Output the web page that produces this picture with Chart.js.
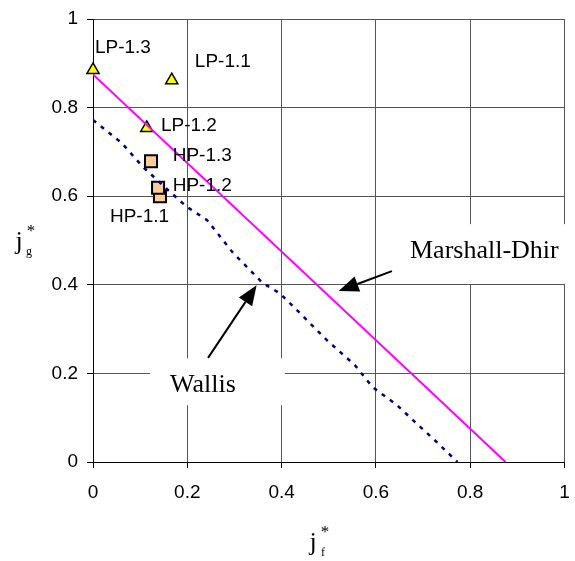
<!DOCTYPE html>
<html>
<head>
<meta charset="utf-8">
<script src="https://cdn.jsdelivr.net/npm/chart.js@4/dist/chart.umd.min.js"></script>
<style>
  html, body { margin: 0; padding: 0; background: #fff; }
  #wrap { width: 575px; height: 561px; }
</style>
</head>
<body>
<div id="wrap"><canvas id="chart" width="575" height="561"></canvas></div>
<script>
// --- data ---
const lpNames = ["LP-1.1", "LP-1.2", "LP-1.3"];
const lpX = [0.167, 0.114, 0.0];
const lpY = [0.862, 0.754, 0.885];

const hpNames = ["HP-1.1", "HP-1.2", "HP-1.3"];
const hpX = [0.142, 0.138, 0.123];
const hpY = [0.600, 0.619, 0.679];

// Marshall-Dhir correlation (straight line)
const mdX = [0.0, 0.875];
const mdY = [0.875, 0.0];

// Wallis correlation (dashed)
const wallisX = [0.0, 0.061, 0.106, 0.159, 0.199, 0.242, 0.297, 0.360, 0.396, 0.439, 0.496, 0.555, 0.593, 0.644, 0.678, 0.731, 0.773];
const wallisY = [0.772, 0.720, 0.666, 0.614, 0.576, 0.546, 0.472, 0.404, 0.381, 0.336, 0.275, 0.219, 0.169, 0.129, 0.095, 0.043, 0.0];

const axisTicks = [0, 0.2, 0.4, 0.6, 0.8, 1];

// point label anchors (data units, left edge / vertical middle)
const labelAnchors = {
  "LP-1.3": [0.004, 0.935], "LP-1.1": [0.216, 0.903], "LP-1.2": [0.144, 0.758],
  "HP-1.3": [0.169, 0.691], "HP-1.2": [0.169, 0.623], "HP-1.1": [0.036, 0.553],
};

// callouts: white box, text, arrow (all in data units)
const callouts = [
  { text: "Marshall-Dhir", box: [0.65, 0.537, 1.004, 0.402], at: [0.83, 0.477], from: [0.634, 0.431], to: [0.521, 0.386] },
  { text: "Wallis", box: [0.121, 0.234, 0.407, 0.128], at: [0.233, 0.174], from: [0.244, 0.235], to: [0.347, 0.399] },
];

const pts = (xs, ys) => xs.map((v, i) => ({ x: v, y: ys[i] }));
const SANS = "'Liberation Sans', Arial, sans-serif";
const SERIF = "'Liberation Serif', 'Times New Roman', serif";

function arrow(ctx, x0, y0, x1, y1) {
  const a = Math.atan2(y1 - y0, x1 - x0), len = 20, half = 8;
  const bx = x1 - Math.cos(a) * len, by = y1 - Math.sin(a) * len;
  ctx.beginPath(); ctx.moveTo(x0, y0); ctx.lineTo(bx, by);
  ctx.lineWidth = 2; ctx.strokeStyle = "#000"; ctx.stroke();
  ctx.beginPath();
  ctx.moveTo(x1, y1);
  ctx.lineTo(bx + Math.sin(a) * half, by - Math.cos(a) * half);
  ctx.lineTo(bx - Math.sin(a) * half, by + Math.cos(a) * half);
  ctx.closePath(); ctx.fillStyle = "#000"; ctx.fill();
}

const notes = {
  id: "notes",
  beforeDatasetsDraw(chart) {
    const { ctx, scales: { x, y } } = chart;
    ctx.save();
    ctx.fillStyle = "#fff";
    callouts.forEach(c => {
      const x0 = x.getPixelForValue(c.box[0]), y0 = y.getPixelForValue(c.box[1]);
      const x1 = x.getPixelForValue(c.box[2]), y1 = y.getPixelForValue(c.box[3]);
      ctx.fillRect(x0, y0, x1 - x0, y1 - y0);
    });
    ctx.restore();
  },
  afterDatasetsDraw(chart) {
    const { ctx, scales: { x, y } } = chart;
    ctx.save();
    ctx.fillStyle = "#000";
    ctx.font = "19px " + SANS;
    ctx.textAlign = "left"; ctx.textBaseline = "middle";
    Object.entries(labelAnchors).forEach(([t, p]) => {
      ctx.fillText(t, x.getPixelForValue(p[0]), y.getPixelForValue(p[1]));
    });
    ctx.font = "26px " + SERIF;
    ctx.textAlign = "center";
    callouts.forEach(c => {
      ctx.fillStyle = "#000";
      ctx.fillText(c.text, x.getPixelForValue(c.at[0]), y.getPixelForValue(c.at[1]));
      arrow(ctx, x.getPixelForValue(c.from[0]), y.getPixelForValue(c.from[1]),
                 x.getPixelForValue(c.to[0]), y.getPixelForValue(c.to[1]));
    });
    ctx.restore();
  },
  afterDraw(chart) {
    // axis titles j*_f and j*_g
    const { ctx } = chart;
    ctx.save();
    ctx.fillStyle = "#000";
    ctx.textAlign = "center";
    const title = (cx, base, sub) => {
      ctx.font = "26px " + SERIF; ctx.textBaseline = "alphabetic";
      ctx.fillText("j", cx, base);
      ctx.font = "17px " + SERIF; ctx.textBaseline = "middle";
      ctx.fillText("*", cx + 12, base - 17);
      ctx.font = "12px " + SERIF;
      ctx.fillText(sub, cx + 10, base + 3);
    };
    title(313, 550, "f");
    title(19, 249, "g");
    ctx.restore();
  },
};

const gridStyle = { color: "#555", lineWidth: 1, tickLength: 6, tickColor: "#000" };
const fmt = v => String(+v.toFixed(1));

new Chart(document.getElementById("chart"), {
  type: "scatter",
  data: {
    datasets: [
      {
        label: "Marshall-Dhir", data: pts(mdX, mdY), showLine: true,
        borderColor: "#ff00ff", borderWidth: 2, pointRadius: 0,
      },
      {
        label: "Wallis", data: pts(wallisX, wallisY), showLine: true,
        borderColor: "#000080", borderWidth: 2.5, borderDash: [4, 6], pointRadius: 0,
      },
      {
        label: "HP", data: pts(hpX, hpY), pointStyle: "rect", pointRadius: 8.5,
        backgroundColor: "#ffcc99", borderColor: "#000", borderWidth: 2, clip: false,
      },
      {
        label: "LP", data: pts(lpX, lpY), pointStyle: "triangle", pointRadius: 7,
        backgroundColor: "#ffff00", borderColor: "#000", borderWidth: 1.5, clip: false,
      },
    ],
  },
  options: {
    responsive: false,
    animation: false,
    devicePixelRatio: 1,
    layout: { padding: { top: 19, right: 10, left: 0, bottom: 0 } },
    plugins: { legend: { display: false }, tooltip: { enabled: false } },
    scales: {
      x: {
        type: "linear", min: 0, max: 1,
        afterBuildTicks: s => { s.ticks = axisTicks.map(v => ({ value: v })); },
        afterFit: s => { s.height = 99; s.paddingLeft = 0; s.paddingRight = 0; },
        grid: gridStyle,
        border: { color: "#000", width: 1 },
        ticks: { color: "#000", font: { family: SANS, size: 19 }, padding: 13, maxRotation: 0, callback: fmt },
      },
      y: {
        type: "linear", min: 0, max: 1,
        afterBuildTicks: s => { s.ticks = axisTicks.map(v => ({ value: v })); },
        afterFit: s => { s.width = 93; s.paddingTop = 0; s.paddingBottom = 0; },
        grid: gridStyle,
        border: { color: "#000", width: 1 },
        ticks: { color: "#000", font: { family: SANS, size: 19 }, padding: 9, callback: fmt },
      },
    },
  },
  plugins: [notes],
});
</script>
</body>
</html>
